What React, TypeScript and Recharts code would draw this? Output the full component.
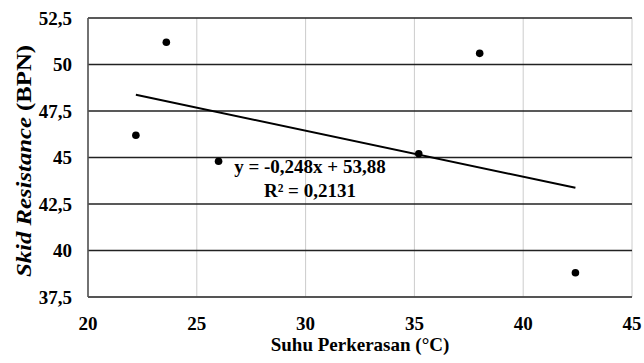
import React from 'react';
import { ComposedChart, Scatter, XAxis, YAxis, CartesianGrid, ReferenceDot, Label } from 'recharts';

const suhu = [22.2, 23.6, 26, 35.2, 38, 42.4];
const skid = [46.2, 51.2, 44.8, 45.2, 50.6, 38.8];
const trendX = [22.2, 42.4];
const trendY = [48.37, 43.37];
const xTicks = [20, 25, 30, 35, 40, 45];
const yTicks = [37.5, 40, 42.5, 45, 47.5, 50, 52.5];
const equation = 'y = -0,248x + 53,88';
const rSquared = 'R² = 0,2131';

const points = suhu.map((x, i) => ({ x, y: skid[i] }));
const trend = trendX.map((x, i) => ({ x, y: trendY[i] }));

const FONT = 'Liberation Serif';
const textStyle = { fontFamily: FONT, fontWeight: 700, fill: '#000' };
const fmt = (v: number) => String(v).replace('.', ',');

const Dot = (props: any) => <circle cx={props.cx} cy={props.cy} r={3.8} fill="#000" />;

const XTick = (props: any) => (
  <text x={props.x} y={props.y} dy={26} textAnchor="middle" dominantBaseline="central" style={{ ...textStyle, fontSize: 19 }}>
    {props.payload.value}
  </text>
);

const YTick = (props: any) => (
  <text x={props.x} y={props.y} dx={-16} textAnchor="end" dominantBaseline="central" style={{ ...textStyle, fontSize: 19 }}>
    {fmt(props.payload.value)}
  </text>
);

const EquationText = (props: any) => (
  <g>
    <text x={props.cx} y={props.cy} textAnchor="middle" dominantBaseline="central" style={{ ...textStyle, fontSize: 19 }}>
      {equation}
    </text>
    <text x={props.cx} y={props.cy + 24} textAnchor="middle" dominantBaseline="central" style={{ ...textStyle, fontSize: 19 }}>
      {rSquared}
    </text>
  </g>
);

const YTitle = () => {
  const cx = 23;
  const cy = 161;
  return (
    <text
      x={cx}
      y={cy}
      transform={`rotate(-90 ${cx} ${cy})`}
      textAnchor="middle"
      dominantBaseline="central"
      textLength={232}
      lengthAdjust="spacingAndGlyphs"
      style={{ ...textStyle, fontSize: 22 }}
    >
      <tspan style={{ fontStyle: 'italic' }}>Skid Resistance</tspan> (BPN)
    </text>
  );
};

export default function App() {
  return (
    <div style={{ position: 'absolute', left: 0, top: 0, width: 644, height: 363, background: '#fff', fontFamily: FONT }}>
      <ComposedChart width={644} height={363} margin={{ top: 18, right: 12, bottom: 36, left: 40 }}>
        <CartesianGrid horizontal={false} stroke="#cccccc" strokeWidth={1} />
        <CartesianGrid vertical={false} stroke="#222" strokeWidth={1.4} />
        <XAxis
          type="number"
          dataKey="x"
          domain={[20, 45]}
          ticks={xTicks}
          tickLine={false}
          tickSize={0}
          tickMargin={0}
          axisLine={{ stroke: '#555', strokeWidth: 1.6 }}
          tick={<XTick />}
          height={30}
        >
          <Label value="Suhu Perkerasan (°C)" position="bottom" offset={11} style={{ ...textStyle, fontSize: 19 }} />
        </XAxis>
        <YAxis
          type="number"
          dataKey="y"
          domain={[37.5, 52.5]}
          ticks={yTicks}
          tickLine={false}
          tickSize={0}
          tickMargin={0}
          axisLine={{ stroke: '#555', strokeWidth: 1.6 }}
          tick={<YTick />}
          width={48}
        >
          <Label content={<YTitle />} />
        </YAxis>
        <Scatter data={trend} line={{ stroke: '#000', strokeWidth: 2 }} shape={() => null} isAnimationActive={false} />
        <Scatter data={points} shape={<Dot />} isAnimationActive={false} />
        <ReferenceDot x={30.2} y={44.54} r={0} shape={<EquationText />} />
      </ComposedChart>
    </div>
  );
}
